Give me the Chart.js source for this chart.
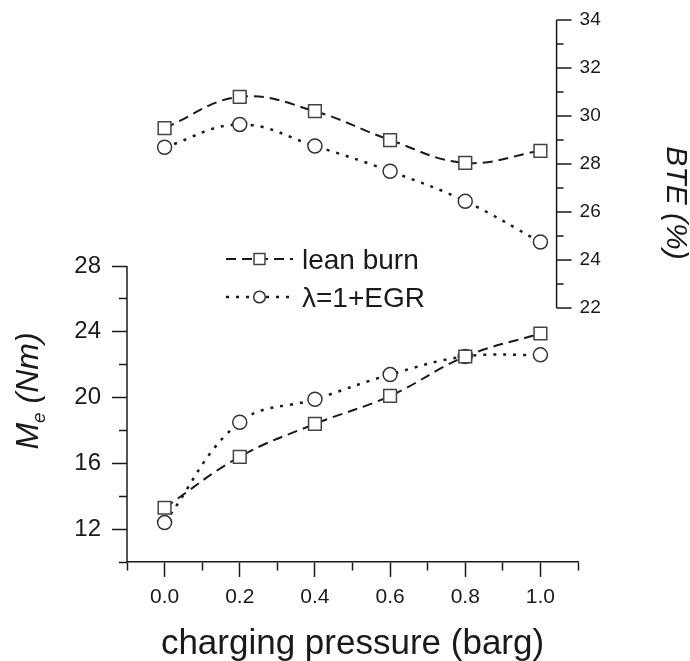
<!DOCTYPE html>
<html>
<head>
<meta charset="utf-8">
<script src="https://cdn.jsdelivr.net/npm/chart.js@4.4.1/dist/chart.umd.min.js"></script>
<style>
  html, body { margin: 0; padding: 0; background: #fff; }
  #wrap { width: 690px; height: 661px; }
</style>
</head>
<body>
<div id="wrap"><canvas id="chart"></canvas></div>
<script>
// Data
const pressure = [0.0, 0.2, 0.4, 0.6, 0.8, 1.0];
const bteLean = [29.5, 30.8, 30.2, 29.0, 28.05, 28.55];
const bteEgr = [28.7, 29.65, 28.75, 27.7, 26.45, 24.75];
const meLean = [13.3, 16.4, 18.4, 20.1, 22.5, 23.9];
const meEgr = [12.4, 18.5, 19.9, 21.4, 22.5, 22.6];

// Ticks
const xMinor = [-0.1, 0.1, 0.3, 0.5, 0.7, 0.9, 1.1];
const meMajor = [12, 16, 20, 24, 28];
const meMinor = [10, 14, 18, 22, 26];
const bteMajor = [22, 24, 26, 28, 30, 32, 34];
const bteMinor = [23, 25, 27, 29, 31, 33];

const seriesNames = ["lean burn", "λ=1+EGR"];

const FONT = "'Liberation Sans', Arial, sans-serif";
const INK = "#1a1a1a";
const BTE_AXIS_AT = 1.043; // x value where the BTE axis sits

Chart.defaults.font.family = FONT;
Chart.defaults.color = INK;

const points = (ys) => pressure.map((x, i) => ({ x, y: ys[i] }));
const sorted = (a, b) => [...a, ...b].sort((p, q) => p - q).map((v) => ({ value: v }));

const LEAN = {
	borderColor: INK,
	borderWidth: 2,
	borderDash: [10, 6],
	pointStyle: "rect",
	pointRadius: 9,
	pointBorderColor: "#444",
	pointBorderWidth: 1.5,
	pointBackgroundColor: "#fff",
};
const EGR = {
	borderColor: INK,
	borderWidth: 2.5,
	borderDash: [3, 7],
	pointStyle: "circle",
	pointRadius: 7,
	pointBorderColor: "#333",
	pointBorderWidth: 1.5,
	pointBackgroundColor: "#fff",
};

// axes, titles and legend drawn by hand
const decor = {
	id: "decor",
	afterDraw(chart) {
		const { ctx, scales } = chart;
		const { x, yM, yB } = scales;
		ctx.save();
		ctx.strokeStyle = INK;
		ctx.fillStyle = INK;
		ctx.lineWidth = 1.5;
		ctx.setLineDash([]);

		// left axis line (10..28)
		const xl = yM.right;
		ctx.beginPath();
		ctx.moveTo(xl, yM.getPixelForValue(meMinor[0]));
		ctx.lineTo(xl, yM.getPixelForValue(meMajor[meMajor.length - 1]));
		ctx.stroke();

		// right BTE axis
		const xr = x.getPixelForValue(BTE_AXIS_AT);
		ctx.beginPath();
		ctx.moveTo(xr, yB.getPixelForValue(bteMajor[0]));
		ctx.lineTo(xr, yB.getPixelForValue(bteMajor[bteMajor.length - 1]));
		ctx.stroke();
		ctx.font = "19px " + FONT;
		ctx.textAlign = "left";
		ctx.textBaseline = "middle";
		bteMajor.forEach((v) => {
			const y = yB.getPixelForValue(v);
			ctx.beginPath();
			ctx.moveTo(xr, y);
			ctx.lineTo(xr + 15, y);
			ctx.stroke();
			ctx.fillText(String(v), xr + 23, y);
		});
		bteMinor.forEach((v) => {
			const y = yB.getPixelForValue(v);
			ctx.beginPath();
			ctx.moveTo(xr, y);
			ctx.lineTo(xr + 7, y);
			ctx.stroke();
		});

		// axis titles
		ctx.textBaseline = "alphabetic";
		ctx.textAlign = "center";
		ctx.font = "35px " + FONT;
		ctx.fillText("charging pressure (barg)", (x.left + x.right) / 2, 654);

		ctx.save();
		ctx.font = "italic 30px " + FONT;
		ctx.translate(667, 203);
		ctx.rotate(Math.PI / 2);
		ctx.fillText("BTE (%)", 0, 0);
		ctx.restore();

		ctx.save();
		ctx.translate(38, 391);
		ctx.rotate(-Math.PI / 2);
		ctx.textAlign = "left";
		const big = "italic 32px " + FONT;
		const small = "italic 19px " + FONT;
		ctx.font = big;
		const wM = ctx.measureText("M").width;
		const wRest = ctx.measureText(" (Nm)").width;
		ctx.font = small;
		const wE = ctx.measureText("e").width;
		let cx = -(wM + wE + wRest) / 2;
		ctx.font = big;
		ctx.fillText("M", cx, 0);
		cx += wM;
		ctx.font = small;
		ctx.fillText("e", cx, 7);
		cx += wE;
		ctx.font = big;
		ctx.fillText(" (Nm)", cx, 0);
		ctx.restore();

		// legend
		const rows = [
			{ style: LEAN, y: 259 },
			{ style: EGR, y: 297 },
		];
		ctx.font = "28px " + FONT;
		ctx.textAlign = "left";
		rows.forEach((r, i) => {
			const s = r.style;
			ctx.strokeStyle = INK;
			ctx.lineWidth = s.borderWidth;
			ctx.setLineDash(s.borderDash);
			ctx.beginPath();
			ctx.moveTo(226, r.y);
			ctx.lineTo(293, r.y);
			ctx.stroke();
			ctx.setLineDash([]);
			ctx.fillStyle = "#fff";
			ctx.strokeStyle = s.pointBorderColor;
			ctx.lineWidth = 1.5;
			ctx.beginPath();
			if (s.pointStyle === "rect") ctx.rect(254, r.y - 5.5, 11, 11);
			else ctx.arc(259.5, r.y, 5.8, 0, Math.PI * 2);
			ctx.fill();
			ctx.stroke();
			ctx.fillStyle = INK;
			ctx.fillText(seriesNames[i], 302, r.y + 10);
		});

		ctx.restore();
	},
};

const CONFIG = {
	type: "line",
	data: {
		datasets: [
			{ label: seriesNames[0], data: points(bteLean), yAxisID: "yB", tension: 0.4, ...LEAN },
			{ label: seriesNames[1], data: points(bteEgr), yAxisID: "yB", tension: 0.4, ...EGR },
			{ label: seriesNames[0], data: points(meLean), yAxisID: "yM", tension: 0.4, ...LEAN },
			{ label: seriesNames[1], data: points(meEgr), yAxisID: "yM", tension: 0.4, ...EGR },
		],
	},
	options: {
		responsive: true,
		maintainAspectRatio: false,
		animation: false,
		layout: { padding: { top: 20, right: 112, left: 0, bottom: 0 } },
		plugins: {
			legend: { display: false },
			tooltip: { enabled: false },
		},
		scales: {
			x: {
				type: "linear",
				min: -0.1,
				max: 1.1,
				afterBuildTicks: (s) => { s.ticks = sorted(pressure, xMinor); },
				afterFit: (s) => {
					s.height = 99;
					s.paddingLeft = 0;
					s.paddingRight = 0;
				},
				border: { display: true, color: INK, width: 1.5 },
				grid: {
					drawOnChartArea: false,
					tickLength: 15,
					tickWidth: 1.5,
					tickColor: INK,
					tickBorderDash: (c) => (xMinor.includes(c.tick?.value) ? [8, 100] : []),
				},
				ticks: {
					autoSkip: false,
					maxRotation: 0,
					padding: 8,
					font: { size: 21 },
					callback: (v) => (pressure.includes(v) ? v.toFixed(1) : ""),
				},
			},
			yM: {
				type: "linear",
				position: "left",
				min: 10,
				max: 42.97,
				afterBuildTicks: (s) => { s.ticks = sorted(meMajor, meMinor); },
				afterFit: (s) => {
					s.width = 127;
					s.paddingTop = 0;
					s.paddingBottom = 0;
				},
				border: { display: false },
				grid: {
					drawOnChartArea: false,
					tickLength: 15,
					tickWidth: 1.5,
					tickColor: INK,
					tickBorderDash: (c) => (meMinor.includes(c.tick?.value) ? [0, 7, 8, 100] : []),
				},
				ticks: {
					autoSkip: false,
					padding: 11,
					font: { size: 24 },
					callback: (v) => (meMajor.includes(v) ? String(v) : ""),
				},
			},
			yB: {
				type: "linear",
				position: "right",
				display: false,
				min: 11.42,
				max: 34,
			},
		},
	},
	plugins: [decor],
};

new Chart(document.getElementById("chart"), CONFIG);
</script>
</body>
</html>
